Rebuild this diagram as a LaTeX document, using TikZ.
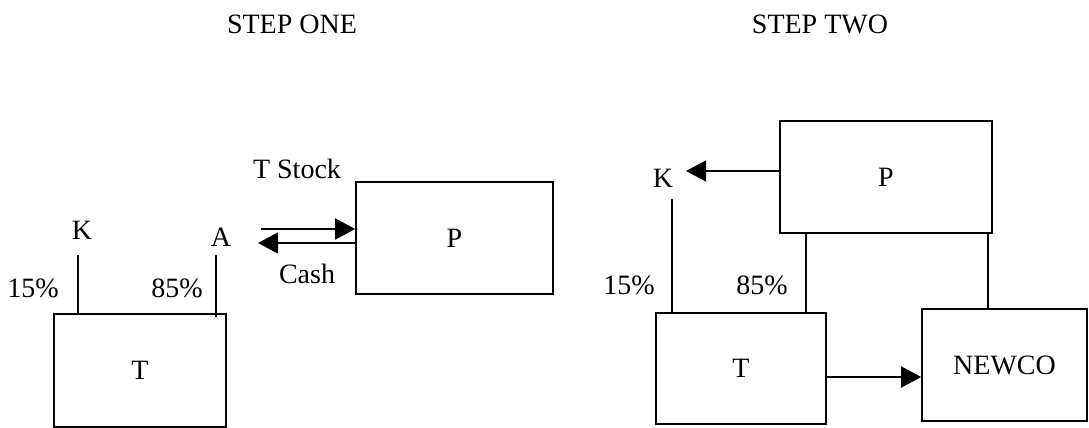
\documentclass[tikz,border=0pt]{standalone}
\usepackage{fontspec}
\setmainfont{Liberation Serif}
\usetikzlibrary{arrows.meta}

\begin{document}
\begin{tikzpicture}[
  x=1pt,y=-1pt,
  every node/.style={font=\fontsize{28}{31}\selectfont,inner sep=0pt},
  box/.style={draw,line width=1.6pt,minimum width=#1},
  link/.style={line width=1.6pt},
  ar/.style={line width=1.6pt,-{Triangle[length=20pt,width=21pt]}}
]
\useasboundingbox (0,0) rectangle (1089,428);

% step one
\node (hone) at (292,24) {STEP ONE};
\node[box=172pt,minimum height=113pt] (tone) at (140,370.5) {T};
\node[box=197pt,minimum height=112pt] (pone) at (454.5,238) {P};
\node (kone) at (82,230) {K};
\node (aone) at (221,237) {A};
\node (kpone) at (33,288) {15\%};
\node (apone) at (177,288) {85\%};
\node (stock) at (297,169) {T Stock};
\node (cash) at (307,274) {Cash};
\coordinate (konetop) at (78,255);
\coordinate (aonetop) at (216,255);
\coordinate (stockstart) at (261,229);
\coordinate (cashend) at (258,243);

\draw[link] (konetop) -- (konetop |- tone.north);
\draw[link] (aonetop) -- ([yshift=-4pt]aonetop |- tone.north);
\draw[ar] (stockstart) -- (stockstart -| pone.west);
\draw[ar] (cashend -| pone.west) -- (cashend);

% step two
\node (htwo) at (820,24) {STEP TWO};
\node[box=212pt,minimum height=112pt] (ptwo) at (886,177) {P};
\node[box=170pt,minimum height=111pt] (ttwo) at (741,368.5) {T};
\node[box=165pt,minimum height=112pt] (newco) at (1004.5,365) {NEWCO};
\node (ktwo) at (663,178) {K};
\node (kptwo) at (629,285) {15\%};
\node (aptwo) at (762,285) {85\%};
\coordinate (ktwotop) at (672,199);
\coordinate (ktwotip) at (686,171);

\draw[ar] (ktwotip -| ptwo.west) -- (ktwotip);
\draw[link] (ktwotop) -- (ktwotop |- ttwo.north);
\draw[link] (806,0 |- ptwo.south) -- ([yshift=-2pt]806,0 |- ttwo.north);
\draw[link] (988,0 |- ptwo.south) -- (988,0 |- newco.north);
\draw[ar] (ttwo.east |- 0,377) -- (newco.west |- 0,377);
\end{tikzpicture}
\end{document}
